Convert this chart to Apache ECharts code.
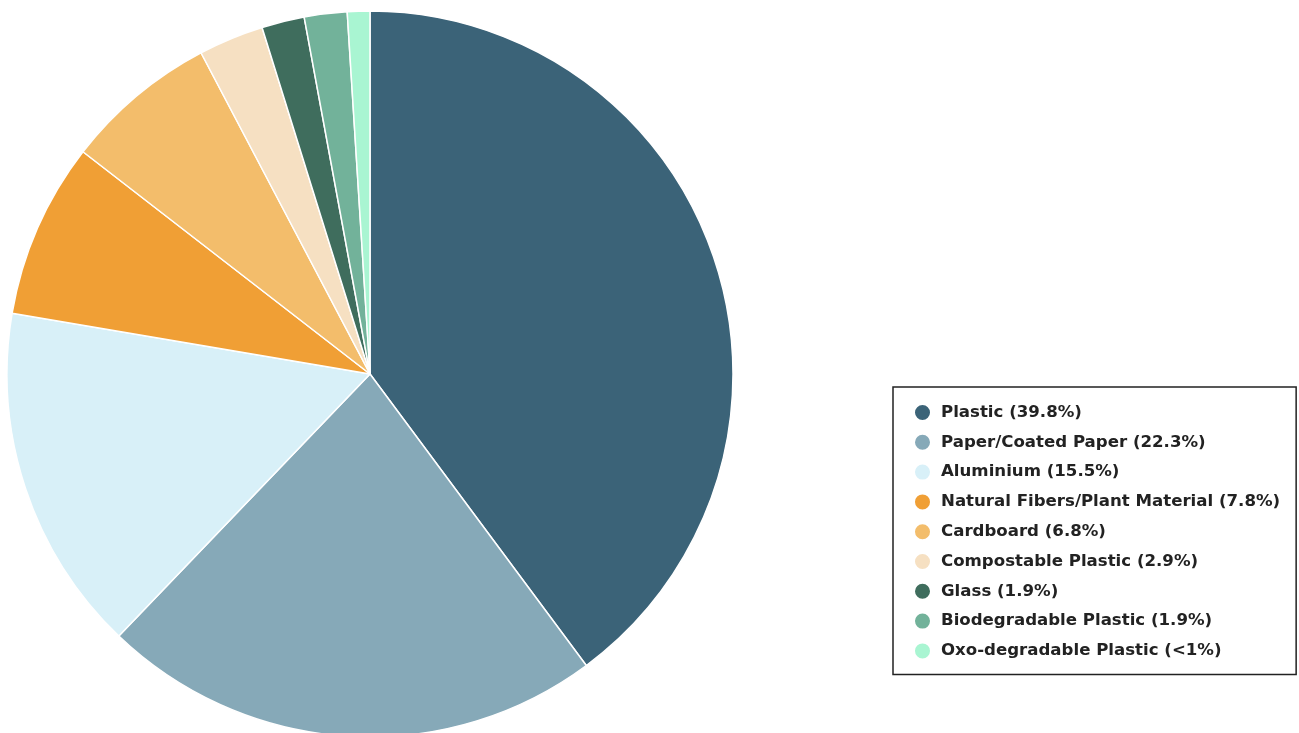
<!DOCTYPE html>
<html><head><meta charset="utf-8">
<script src="https://cdn.jsdelivr.net/npm/echarts@6/dist/echarts.min.js"></script>
<style>html,body{margin:0;padding:0;background:#fff;}#c{width:1299px;height:733px;}</style>
</head><body><div id="c"></div>
<script>
const categories = ["Plastic","Paper/Coated Paper","Aluminium","Natural Fibers/Plant Material","Cardboard","Compostable Plastic","Glass","Biodegradable Plastic","Oxo-degradable Plastic"];
const values = [39.8, 22.3, 15.5, 7.8, 6.8, 2.9, 1.9, 1.9, 1.0];
const legendLabels = ["39.8%","22.3%","15.5%","7.8%","6.8%","2.9%","1.9%","1.9%","<1%"];
const colors = ["#3b6378","#86a9b8","#d8f0f8","#f09f35","#f3bd6b","#f6e0c2","#3f6d5d","#72b29a","#a9f5d2"];

const chart = echarts.init(document.getElementById('c'));
chart.setOption({
  animation: false,
  color: colors,
  legend: {
    orient: 'vertical',
    left: 893, top: 387,
    padding: [16, 16, 14, 20],
    borderColor: '#222', borderWidth: 1.5,
    itemWidth: 17, itemHeight: 17, itemGap: 10.8,
    icon: 'circle',
    textStyle: { fontFamily: 'DejaVu Sans', fontWeight: 'bold', fontSize: 16.6, lineHeight: 16.5, color: '#222', padding: [0,0,0,5] },
    formatter: function(name){ return name + ' (' + legendLabels[categories.indexOf(name)] + ')'; },
    data: categories
  },
  series: [{
    type: 'pie',
    center: [370, 374],
    radius: [0, 363],
    startAngle: 90,
    clockwise: true,
    label: { show: false },
    labelLine: { show: false },
    itemStyle: { borderColor: '#fff', borderWidth: 1.5 },
    emphasis: { disabled: true },
    data: categories.map((n,i)=>({name:n, value:values[i]}))
  }]
});
</script></body></html>
